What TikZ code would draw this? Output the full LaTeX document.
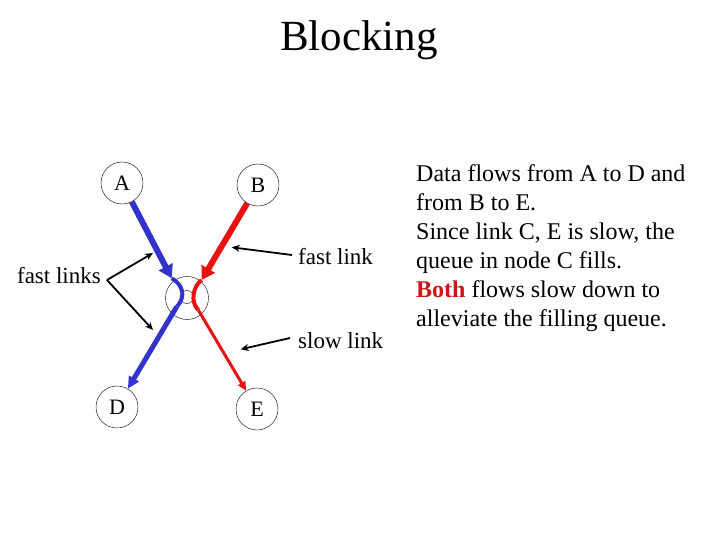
\documentclass[tikz,border=0pt]{standalone}
\usepackage{fontspec}
\setmainfont{Liberation Serif}
\usetikzlibrary{arrows,arrows.meta,positioning}
\definecolor{flowblue}{RGB}{51,51,204}
\definecolor{flowred}{RGB}{232,18,18}
\definecolor{bothred}{RGB}{200,24,24}

\begin{document}
\begin{tikzpicture}[x=1pt,y=-1pt,
  host/.style={draw,circle,thin,minimum size=42pt,inner sep=0pt,font=\fontsize{22}{22}\selectfont},
  lbl/.style={inner sep=3pt,font=\fontsize{23}{23}\selectfont},
  pointer/.style={line width=1.8pt,-{Stealth[length=8pt,width=7pt]}}]
  \useasboundingbox (0,0) rectangle (720,540);
  \node (title) at (359,40) {\fontsize{43}{43}\selectfont Blocking};
  % hosts and the router C
  \node[host] (A) at (122,183) {A};
  \node[host] (B) at (258,185) {B};
  \node[host] (D) at (117,407) {D};
  \node[host] (E) at (257,409) {E};
  \node[host,minimum size=43pt] (C) at (187,298) {};
  \node[draw,circle,thin,minimum size=13pt,inner sep=0pt] (Cq) at (187,297) {};
  \coordinate (bin) at (171.7,278.3);
  \coordinate (bout) at (176.7,306.7);
  \coordinate (rin) at (201.7,280);
  \coordinate (rout) at (198.3,310);
  % flow A to D
  \draw[flowblue,line width=6pt,-{Triangle[length=13pt,width=15pt]}] (A) -- (bin);
  \draw[flowblue,line width=4pt] (bin) .. controls (182,284) and (187,296) .. (bout);
  \draw[flowblue,line width=5pt,-{Triangle[length=12pt,width=11pt]}] (bout) -- (D);
  % flow B to E
  \draw[flowred,line width=6pt,-{Triangle[length=13pt,width=15pt]}] (B) -- (rin);
  \draw[flowred,line width=4pt] (rin) .. controls (193,286) and (190,302) .. (rout);
  \draw[flowred,line width=3pt,-{Triangle[length=9pt,width=8pt]}] (rout) -- (E);
  % labels
  \node[lbl,anchor=east] (fls) at (104,276) {fast links};
  \coordinate (flsa) at (153,253);
  \coordinate (flsb) at (153,330);
  \draw[pointer] ([shift={(3,4)}]fls.east) -- (flsa);
  \draw[pointer] ([shift={(3,4)}]fls.east) -- (flsb);
  \node[lbl,anchor=west] (fl) at (295,257) {fast link};
  \coordinate (fltip) at (231.7,247.3);
  \draw[pointer] ([shift={(-3,-2)}]fl.west) -- (fltip);
  \node[lbl,anchor=west] (sl) at (295,341) {slow link};
  \coordinate (sltip) at (240.7,349.3);
  \draw[pointer] ([shift={(-5,-3)}]sl.west) -- (sltip);
  \node[anchor=north west,align=left,inner sep=0pt,font=\fontsize{24}{29}\selectfont] (txt) at (416,164)
    {Data flows from A to D and\\from B to E.\\Since link C, E is slow, the\\queue in node C fills.\\{\color{bothred}\bfseries Both} flows slow down to\\alleviate the filling queue.};
\end{tikzpicture}
\end{document}
